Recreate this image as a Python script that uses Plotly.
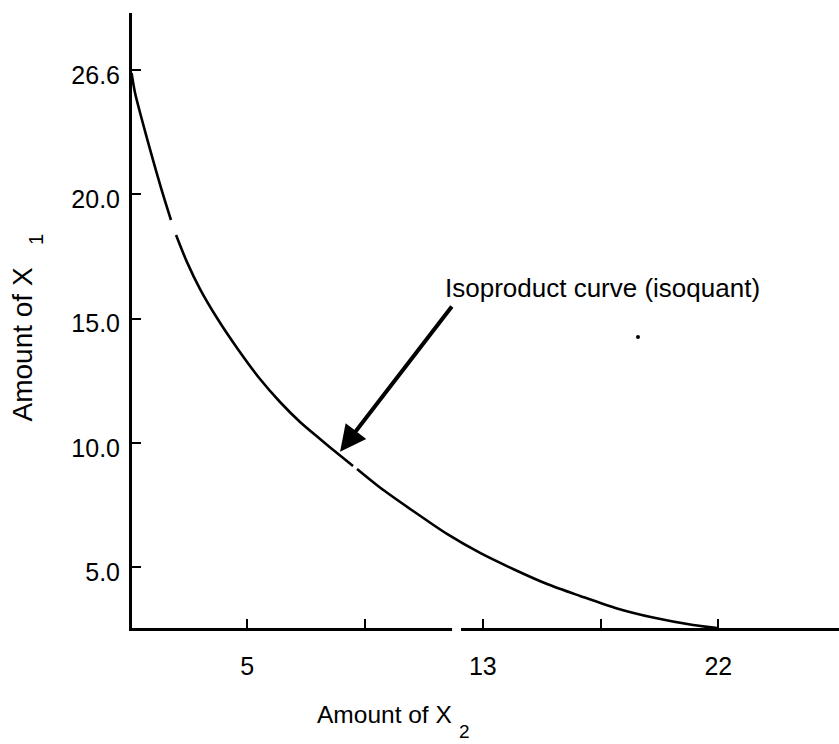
import plotly.graph_objects as go

# Schematic axes: tick "slots" are evenly spaced, labels are not linear
x_tick_slots = [1, 2, 3, 4, 5]
x_tick_labels = ["5", "", "13", "", "22"]
y_tick_slots = [1, 2, 3, 4, 5]
y_tick_labels = ["5.0", "10.0", "15.0", "20.0", "26.6"]

# Isoquant curve in slot units (None = break in the printed line)
curve_x = [0.017, 0.047, 0.106, 0.183, 0.268, 0.352, None, 0.395, 0.488, 0.599, 0.743,
           0.913, 1.108, 1.278, 1.448, 1.618, 1.788, 1.898, None, 1.932, 2.127, 2.408,
           2.696, 2.977, 3.257, 3.546, 3.826, 4.140, 4.446, 4.786, 4.989]
curve_y = [4.976, 4.815, 4.598, 4.331, 4.050, 3.793, None, 3.672, 3.454, 3.237, 3.004,
           2.763, 2.513, 2.328, 2.167, 2.030, 1.897, 1.813, None, 1.789, 1.640, 1.451,
           1.266, 1.113, 0.984, 0.863, 0.767, 0.666, 0.593, 0.533, 0.509]

annotation_text = "Isoproduct curve (isoquant)"
arrow_tip = (1.788, 1.928)
arrow_tail = (2.747, 3.108)
stray_dot_x = [4.318]
stray_dot_y = [2.851]

FONT = "Liberation Sans, Arial, Helvetica, sans-serif"
X_RANGE = [0.021, 6.025]
Y_RANGE = [0.509, 5.459]

fig = go.Figure()
fig.add_trace(go.Scatter(x=curve_x, y=curve_y, mode="lines",
                         line=dict(color="black", width=2.6, shape="spline", smoothing=0.8),
                         connectgaps=False, showlegend=False, hoverinfo="skip"))
fig.add_trace(go.Scatter(x=stray_dot_x, y=stray_dot_y, mode="markers",
                         marker=dict(color="black", size=4), showlegend=False, hoverinfo="skip"))

fig.update_layout(
    width=839, height=744,
    margin=dict(l=132, r=0, t=13, b=116, autoexpand=False),
    paper_bgcolor="white", plot_bgcolor="white",
    font=dict(family=FONT, size=25, color="black"),
    xaxis=dict(range=X_RANGE, showgrid=False, zeroline=False, showline=True,
               linecolor="black", linewidth=3, ticks="inside", ticklen=9, tickwidth=2,
               tickcolor="black", tickvals=x_tick_slots, ticktext=x_tick_labels,
               ticklabelstandoff=14, tickfont=dict(size=25), automargin=False),
    yaxis=dict(range=Y_RANGE, showgrid=False, zeroline=False, showline=True,
               linecolor="black", linewidth=3, ticks="inside", ticklen=9, tickwidth=2,
               tickcolor="black", tickvals=y_tick_slots, ticktext=y_tick_labels,
               ticklabelstandoff=4, ticklabelshift=5, tickfont=dict(size=25),
               automargin=False),
)

# gap in the printed x-axis
fig.add_shape(type="rect", xref="x", yref="paper", x0=2.739, x1=2.815, y0=-0.01, y1=0.012,
              fillcolor="white", line=dict(width=0), layer="above")

# arrow
fig.add_annotation(x=arrow_tip[0], y=arrow_tip[1], ax=arrow_tail[0], ay=arrow_tail[1],
                   xref="x", yref="y", axref="x", ayref="y", text="", showarrow=True,
                   arrowhead=2, arrowsize=1.3, arrowwidth=4, arrowcolor="black")
# label
fig.add_annotation(x=2.662, y=3.245, xref="x", yref="y", text=annotation_text,
                   showarrow=False, xanchor="left", yanchor="middle",
                   font=dict(size=26, family=FONT, color="black"))

# axis titles with detached subscripts
fig.add_annotation(x=(315 - 132) / 707, y=(628 - 714) / 615, xref="paper", yref="paper",
                   text="Amount of X", showarrow=False, xanchor="left", yanchor="middle",
                   font=dict(size=24.5))
fig.add_annotation(x=(457 - 132) / 707, y=(628 - 731) / 615, xref="paper", yref="paper",
                   text="2", showarrow=False, xanchor="left", yanchor="middle",
                   font=dict(size=19))
fig.add_annotation(x=(22 - 132) / 707, y=(628 - 344.5) / 615, xref="paper", yref="paper",
                   text="Amount of X", showarrow=False, textangle=-90,
                   xanchor="center", yanchor="middle", font=dict(size=28))
fig.add_annotation(x=(36 - 132) / 707, y=(628 - 240) / 615, xref="paper", yref="paper",
                   text="1", showarrow=False, textangle=-90,
                   xanchor="center", yanchor="middle", font=dict(size=20))

fig.write_html("out.html", config={"displayModeBar": False},
               post_script="document.body.style.margin='0';")
